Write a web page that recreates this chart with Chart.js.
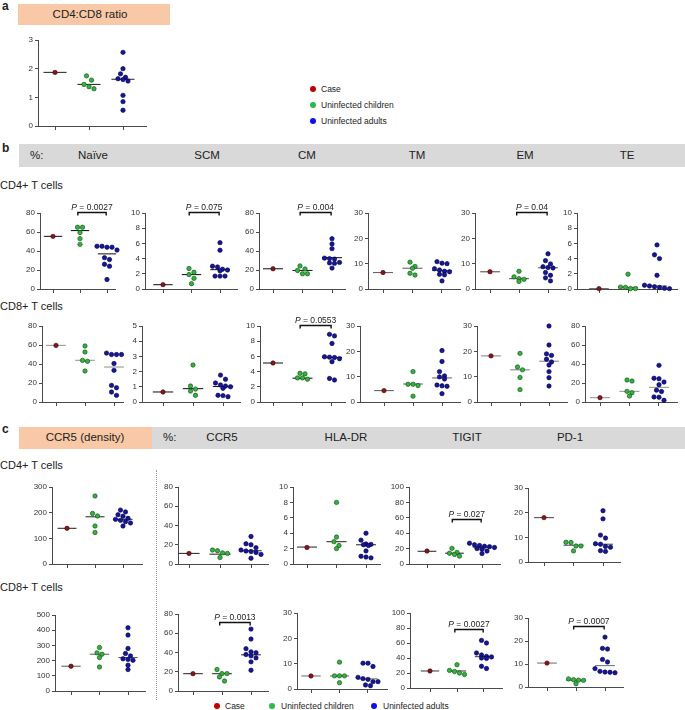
<!DOCTYPE html>
<html><head><meta charset="utf-8">
<script src="https://cdn.jsdelivr.net/npm/chart.js@4.4.1/dist/chart.umd.min.js"></script>
<style>
html,body{margin:0;padding:0;background:#fff}
body{width:685px;height:710px;position:relative;overflow:hidden;font-family:"Liberation Sans",Arial,Helvetica,sans-serif;color:#222}
.t{position:absolute;white-space:nowrap}
.box{position:absolute}
canvas{position:absolute}
.dot{position:absolute;border-radius:50%}
</style></head><body>
<script>
// ---------------- DATA ----------------
const groupNames = ['Case', 'Uninfected children', 'Uninfected adults'];

// a: CD4:CD8 ratio  [case], [children], [adults]
const ratio = [[1.87], [1.75, 1.60, 1.45, 1.37, 1.30], [2.57, 2.00, 1.82, 1.70, 1.65, 1.62, 1.57, 1.07, 0.85, 0.55]];
const ratioMed = [1.87, 1.45, 1.63];

// b: CD4+ T cells (%)
const cd4Naive = [[55.4], [65, 65, 59.5, 53, 47], [45, 45, 44, 44, 41, 33, 31, 26, 24, 10]];
const cd4NaiveMed = [55.4, 61.5, 37];
const cd4SCM = [[0.57], [2.7, 2.2, 1.9, 1.4, 0.7], [6.1, 5.1, 3.0, 2.9, 2.6, 2.5, 2.4, 1.7, 1.7, 1.7]];
const cd4SCMMed = [0.57, 1.9, 2.55];
const cd4CM = [[21.3], [24.3, 21, 19.5, 16, 16], [53, 47.5, 42.5, 32.5, 32, 31.5, 28, 27.5, 27, 22]];
const cd4CMMed = [21.3, 19.5, 33];
const cd4TM = [[6.5], [10.6, 8.9, 8.2, 6.2, 5.5], [10.8, 10.2, 10, 8, 7.5, 7, 6.8, 5.8, 5.6, 3.2]];
const cd4TMMed = [6.5, 8.2, 7.3];
const cd4EM = [[6.8], [7.0, 4.8, 4.1, 3.8, 3.0], [13.9, 11.2, 9.9, 8.8, 8.5, 8.3, 6.5, 5.4, 4.4, 3.2]];
const cd4EMMed = [6.8, 4.1, 8.4];
const cd4TE = [[0.05], [1.95, 0.25, 0.22, 0.05, 0.05], [5.8, 4.5, 4.0, 1.8, 0.5, 0.4, 0.3, 0.2, 0.1, 0.05]];
const cd4TEMed = [0.05, 0.22, 0.4];

// b: CD8+ T cells (%)
const cd8Naive = [[59.6], [59, 52.6, 43.8, 42.8, 32.6], [51.5, 50, 50, 50, 40.5, 33.3, 17.5, 15, 10.5, 7]];
const cd8NaiveMed = [59.6, 43.9, 36.8];
const cd8SCM = [[0.66], [2.43, 1.05, 0.85, 0.72, 0.44], [1.77, 1.5, 1.25, 1.12, 1.05, 1.0, 0.9, 0.44, 0.42, 0.35]];
const cd8SCMMed = [0.66, 0.88, 1.02];
const cd8CM = [[5.13], [3.78, 3.7, 3.17, 3.17, 3.0], [8.9, 8.7, 7.7, 5.95, 5.9, 5.85, 5.7, 5.3, 3.1, 2.9]];
const cd8CMMed = [5.13, 3.13, 5.87];
const cd8TM = [[4.5], [12, 7, 7, 6.5, 2.3], [20.3, 16, 12, 10.3, 9.9, 9.1, 6.7, 6.4, 6.2, 3.3]];
const cd8TMMed = [4.5, 7.1, 9.5];
const cd8EM = [[18.2], [19.2, 13.8, 12.7, 9.7, 4.9], [30, 22.5, 19, 18.4, 16.9, 15.8, 14.6, 12, 9.6, 6.3]];
const cd8EMMed = [18.2, 12.7, 16.1];
const cd8TE = [[4.6], [23.2, 22.1, 11.2, 9.8, 6.3], [38.6, 25, 24.5, 21, 18.2, 12.5, 11, 5.3, 5, 1.8]];
const cd8TEMed = [4.6, 11.2, 15.4];

// c: CD4+ T cells
const cd4CCR5d = [[139], [265, 197, 187, 148, 123], [210, 203, 192, 186, 178, 174, 170, 165, 160, 148]];
const cd4CCR5dMed = [139, 184, 174];
const cd4CCR5 = [[11], [14.5, 13.8, 11.6, 11, 6.7], [28.6, 21, 20, 17, 14.5, 13.5, 13, 12, 10, 6]];
const cd4CCR5Med = [11, 10.2, 13.8];
const cd4HLA = [[2.15], [8.0, 3.5, 2.9, 2.4, 2.0], [4.0, 3.1, 2.6, 2.55, 2.5, 2.4, 1.7, 1.0, 0.9, 0.8]];
const cd4HLAMed = [2.2, 2.9, 2.5];
const cd4TIGIT = [[16.8], [20.3, 15, 14, 12.4, 10.2], [27, 25, 24, 23, 22.5, 21.5, 20, 19, 16.8, 13.5]];
const cd4TIGITMed = [16.5, 14, 22];
const cd4PD1 = [[18], [8.0, 7.9, 6.5, 6.5, 4.5], [20.8, 17.5, 10.9, 9.7, 7.4, 7.2, 6.3, 6.0, 4.6, 4.3]];
const cd4PD1Med = [18, 6.8, 7.2];

// c: CD8+ T cells
const cd8CCR5d = [[163], [286, 251, 242, 220, 158], [416, 368, 280, 247, 231, 212, 208, 202, 170, 141]];
const cd8CCR5dMed = [163, 242, 220];
const cd8CCR5 = [[18], [22.3, 18.1, 18.1, 14.6, 10.4], [64.3, 54, 44, 40.7, 39.7, 37.9, 36.5, 34.4, 30.3, 21.6]];
const cd8CCR5Med = [18, 18, 37.6];
const cd8HLA = [[5.15], [10.6, 5.2, 5.2, 5.2, 2.5], [10.2, 10.2, 8.9, 4.6, 4.1, 3.8, 2.9, 2.9, 1.6, 1.3]];
const cd8HLAMed = [5.15, 5.15, 4.0];
const cd8TIGIT = [[22.7], [31, 23.5, 22, 20, 18], [63.5, 60, 46.7, 44, 42.2, 41.4, 40, 39.5, 29, 26]];
const cd8TIGITMed = [22.7, 22.7, 41.8];
const cd8PD1 = [[10.4], [3.5, 3.2, 3.0, 2.9, 1.4], [21.7, 16.8, 16.5, 12, 10.9, 8.0, 6.8, 6.5, 6.4, 6.2]];
const cd8PD1Med = [10.4, 2.9, 9.3];

// P-value annotations: [panel, label, bracket level]
const pNotes = [
  ['cd4Naive', '0.0027', 80], ['cd4SCM', '0.075', 10], ['cd4CM', '0.004', 80], ['cd4EM', '0.04', 30],
  ['cd8CM', '0.0553', 10], ['cd4TIGIT', '0.027', 57], ['cd8CCR5', '0.0013', 71],
  ['cd8TIGIT', '0.0027', 78], ['cd8PD1', '0.0007', 26]
];

// y-axis ranges (max, step)
const yAxes = {
  ratio: [3, 1], cd4Naive: [80, 20], cd4SCM: [10, 2], cd4CM: [80, 20], cd4TM: [30, 10], cd4EM: [30, 10], cd4TE: [10, 2],
  cd8Naive: [80, 20], cd8SCM: [5, 1], cd8CM: [10, 2], cd8TM: [30, 10], cd8EM: [30, 10], cd8TE: [80, 20],
  cd4CCR5d: [300, 100], cd4CCR5: [80, 20], cd4HLA: [10, 2], cd4TIGIT: [100, 20], cd4PD1: [30, 10],
  cd8CCR5d: [500, 100], cd8CCR5: [80, 20], cd8HLA: [30, 10], cd8TIGIT: [100, 20], cd8PD1: [30, 10]
};

// ---------------- LAYOUT (pixels: axis x, axis end, first cat, last cat, top, zero) ----------------
const panels = [
  ['ratio', ratio, ratioMed, [38, 146, 55, 123, 40, 126], '#333'],
  ['cd4Naive', cd4Naive, cd4NaiveMed, [40, 115, 53, 107, 213, 289], '#222'],
  ['cd4SCM', cd4SCM, cd4SCMMed, [145, 237, 163, 220, 213, 289], '#222'],
  ['cd4CM', cd4CM, cd4CMMed, [259, 345, 273, 332, 213, 289], '#222'],
  ['cd4TM', cd4TM, cd4TMMed, [368, 460, 383, 442, 213, 289], '#666'],
  ['cd4EM', cd4EM, cd4EMMed, [475, 565, 490, 548, 213, 289], '#555'],
  ['cd4TE', cd4TE, cd4TEMed, [577, 677, 599, 657, 213, 289], '#666'],
  ['cd8Naive', cd8Naive, cd8NaiveMed, [42, 123, 56, 114, 326, 402], '#999'],
  ['cd8SCM', cd8SCM, cd8SCMMed, [142, 240, 163, 223, 326, 402], '#222'],
  ['cd8CM', cd8CM, cd8CMMed, [260, 345, 273, 332, 326, 402], '#222'],
  ['cd8TM', cd8TM, cd8TMMed, [360, 460, 384, 442, 326, 402], '#666'],
  ['cd8EM', cd8EM, cd8EMMed, [477, 567, 491, 549, 326, 402], '#888'],
  ['cd8TE', cd8TE, cd8TEMed, [585, 677, 600, 659, 326, 402], '#999'],
  ['cd4CCR5d', cd4CCR5d, cd4CCR5dMed, [52, 142, 67, 123, 487, 564], '#333'],
  ['cd4CCR5', cd4CCR5, cd4CCR5Med, [178, 268, 189, 251, 487, 564], '#333'],
  ['cd4HLA', cd4HLA, cd4HLAMed, [293, 380, 307, 366, 487, 564], '#333'],
  ['cd4TIGIT', cd4TIGIT, cd4TIGITMed, [409, 500, 427, 482, 487, 564], '#333'],
  ['cd4PD1', cd4PD1, cd4PD1Med, [528, 620, 544, 603, 488, 562], '#555'],
  ['cd8CCR5d', cd8CCR5d, cd8CCR5dMed, [55, 145, 71, 128, 615, 691], '#666'],
  ['cd8CCR5', cd8CCR5, cd8CCR5Med, [178, 268, 193, 251, 614, 691], '#333'],
  ['cd8HLA', cd8HLA, cd8HLAMed, [297, 387, 311, 368, 613, 689], '#777'],
  ['cd8TIGIT', cd8TIGIT, cd8TIGITMed, [410, 502, 430, 484, 613, 688], '#444'],
  ['cd8PD1', cd8PD1, cd8PD1Med, [528, 623, 547, 605, 618, 687], '#777']
];

const FF = '"Liberation Sans", Arial, sans-serif';
const FILL = ['#86171a', '#35b23f', '#16169a'];
const EDGE = ['#3b0000', '#0c4a10', '#00003f'];
const AX = '#4a4a4a';

// ---------------- STATIC TEXT / HEADERS ----------------
function el(cls, css, html) {
  const d = document.createElement('div');
  d.className = cls; Object.assign(d.style, css); if (html != null) d.innerHTML = html;
  document.body.appendChild(d); return d;
}
function text(str, x, cy, size, opt = {}) {
  const d = el('t', { left: x + 'px', top: (cy - size * 0.6) + 'px', fontSize: size + 'px', lineHeight: (size * 1.2) + 'px',
    fontWeight: opt.bold ? 'bold' : 'normal', color: opt.color || '#222' });
  d.textContent = str;
  if (opt.center) d.style.transform = 'translateX(-50%)';
  return d;
}
function box(x1, y1, x2, y2, bg) { el('box', { left: x1 + 'px', top: y1 + 'px', width: (x2 - x1) + 'px', height: (y2 - y1) + 'px', background: bg }); }
function dot(cx, cy, r, c) { el('dot', { left: (cx - r) + 'px', top: (cy - r) + 'px', width: 2 * r + 'px', height: 2 * r + 'px', background: c }); }

const PEACH = '#f9c8a6', GRAY = '#d9d9d9';
text('a', 2, 6, 12, { bold: true });
box(18, 4, 170, 25, PEACH);
text('CD4:CD8 ratio', 90, 14.5, 11.5, { center: true });
const legColors = ['#c00000', '#2db84b', '#1010ee'];
[89, 105, 121].forEach((y, i) => { dot(313, y, 3, legColors[i]); text(groupNames[i], 321, y, 8.5); });

text('b', 2, 148, 12, { bold: true });
box(19, 144, 685, 167, GRAY);
text('%:', 30, 156, 11.5);
[['Naïve', 93], ['SCM', 207], ['CM', 307], ['TM', 417], ['EM', 525], ['TE', 627]].forEach(([s, x]) => text(s, x, 156, 11.5, { center: true }));
text('CD4+ T cells', 0, 186, 11);
text('CD8+ T cells', 0, 307, 11);

text('c', 2, 429, 12, { bold: true });
box(19, 427, 152, 449, PEACH);
box(152, 427, 685, 449, GRAY);
text('CCR5 (density)', 85, 438, 11.5, { center: true });
text('%:', 163, 438, 11.5);
[['CCR5', 222], ['HLA-DR', 346], ['TIGIT', 467], ['PD-1', 570]].forEach(([s, x]) => text(s, x, 438, 11.5, { center: true }));
text('CD4+ T cells', 0, 466, 11);
text('CD8+ T cells', 0, 588, 11);
el('box', { left: '156px', top: '470px', width: '0px', height: '230px', borderLeft: '1px dotted #999' });

[[217, 225], [272, 281], [374, 383]].forEach(([dx, tx], i) => { dot(dx, 706, 3, legColors[i]); text(groupNames[i], tx, 706, 8.5); });

// ---------------- CHARTS ----------------
const PAD_TOP = 24, YW = 30, XH = 6;

function swarm(vals, pxY) {
  const diam = 4.4, gap = 5.0;
  const idx = vals.map((v, i) => i).sort((a, b) => vals[b] - vals[a]);
  const rows = [];
  idx.forEach(i => {
    const r = rows[rows.length - 1];
    if (r && (vals[r[0]] - vals[i]) * pxY < diam) r.push(i); else rows.push([i]);
  });
  const off = new Array(vals.length).fill(0);
  rows.forEach(r => r.forEach((i, k) => { off[i] = (k - (r.length - 1) / 2) * gap; }));
  return off;
}

function build([key, data, med, geo, lineColor]) {
  const [ax, ae, c1, c3, yt, yz] = geo;
  const [yMax, yStep] = yAxes[key];
  const left = ax - YW - 2, top = yt - PAD_TOP;
  const w = ae - left + 6, h = yz - top + XH + 2;
  const cv = document.createElement('canvas');
  cv.width = w; cv.height = h;
  Object.assign(cv.style, { left: left + 'px', top: top + 'px', width: w + 'px', height: h + 'px' });
  document.body.appendChild(cv);
  const unit = (c3 - c1) / 2;
  const xmin = 1 - (c1 - ax) / unit, xmax = 3 + (ae - c3) / unit;
  const note = pNotes.find(n => n[0] === key);

  const datasets = [];
  data.forEach((vals, g) => datasets.push({
    label: groupNames[g], data: vals.map(v => ({ x: g + 1, y: v })),
    pointRadius: 2.2, pointBackgroundColor: FILL[g], pointBorderColor: EDGE[g], pointBorderWidth: 0.6,
    showLine: false, order: 1, clip: false
  }));
  med.forEach((m, g) => datasets.push({
    label: 'median', data: [{ x: g + 1 - 0.34, y: m }, { x: g + 1 + 0.34, y: m }],
    showLine: true, borderColor: lineColor, borderWidth: 1.1, pointRadius: 0, order: 2, clip: false
  }));

  const pPlugin = {
    id: 'pval',
    afterDatasetsDraw(chart) {
      if (!note) return;
      const { ctx } = chart, xs = chart.scales.x, ys = chart.scales.y;
      const x1 = xs.getPixelForValue(1.92), x2 = xs.getPixelForValue(2.97);
      const yy = Math.round(ys.getPixelForValue(note[2])) - 0.5;
      ctx.save();
      ctx.strokeStyle = '#111'; ctx.lineWidth = 1.4;
      ctx.beginPath(); ctx.moveTo(x1, yy + 3); ctx.lineTo(x1, yy); ctx.lineTo(x2, yy); ctx.lineTo(x2, yy + 3); ctx.stroke();
      const fs = 8.5;
      ctx.font = 'italic ' + fs + 'px ' + FF; const w1 = ctx.measureText('P').width;
      ctx.font = fs + 'px ' + FF; const rest = ' = ' + note[1]; const w2 = ctx.measureText(rest).width;
      let sx = (x1 + x2) / 2 - (w1 + w2) / 2;
      ctx.fillStyle = '#222'; ctx.textBaseline = 'alphabetic';
      ctx.font = 'italic ' + fs + 'px ' + FF; ctx.fillText('P', sx, yy - 3);
      ctx.font = fs + 'px ' + FF; ctx.fillText(rest, sx + w1, yy - 3);
      ctx.restore();
    }
  };

  const chart = new Chart(cv, {
    type: 'scatter',
    data: { datasets },
    options: {
      responsive: false, animation: false, devicePixelRatio: 1,
      layout: { padding: { left: 2, right: 6, top: PAD_TOP, bottom: 2 } },
      plugins: { legend: { display: false }, tooltip: { enabled: false } },
      scales: {
        x: {
          type: 'linear', min: xmin, max: xmax,
          afterBuildTicks: s => { s.ticks = [1, 2, 3].map(v => ({ value: v })); },
          afterFit: s => { s.height = XH; },
          ticks: { display: false },
          grid: { drawOnChartArea: false, drawTicks: true, tickLength: 4, color: AX, lineWidth: 1 },
          border: { display: true, color: AX, width: 1 }
        },
        y: {
          min: 0, max: yMax,
          afterFit: s => { s.width = YW; },
          ticks: { stepSize: yStep, font: { size: 8, family: FF }, color: '#333', padding: 2 },
          grid: { drawOnChartArea: false, drawTicks: true, tickLength: 3, color: AX, lineWidth: 1 },
          border: { display: true, color: AX, width: 1 }
        }
      }
    },
    plugins: [pPlugin]
  });

  // Prism-like horizontal arrangement of coincident points
  const ys = chart.scales.y, xs = chart.scales.x;
  const pxY = (ys.getPixelForValue(0) - ys.getPixelForValue(yMax)) / yMax;
  const pxX = xs.getPixelForValue(2) - xs.getPixelForValue(1);
  data.forEach((vals, g) => {
    const off = swarm(vals, pxY);
    chart.data.datasets[g].data = vals.map((v, i) => ({ x: g + 1 + off[i] / pxX, y: v }));
  });
  chart.update('none');
}

panels.forEach(build);
</script>
</body></html>
